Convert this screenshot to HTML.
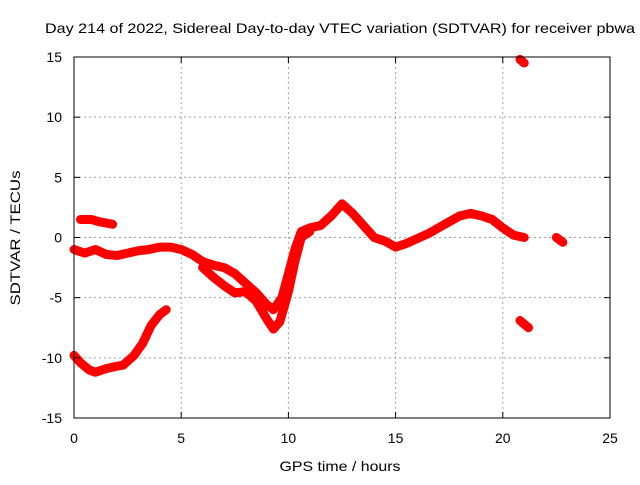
<!DOCTYPE html>
<html><head><meta charset="utf-8"><style>
body{margin:0;background:#fff;}
svg text{font-family:"Liberation Sans",sans-serif;font-size:14px;fill:#000;}
</style></head><body>
<svg id="chart" width="640" height="480">
<text x="340" y="33" text-anchor="middle" textLength="590" lengthAdjust="spacingAndGlyphs">Day 214 of 2022, Sidereal Day-to-day VTEC variation (SDTVAR) for receiver pbwa</text>
<text x="340" y="471" text-anchor="middle" textLength="121" lengthAdjust="spacingAndGlyphs">GPS time / hours</text>
<text transform="translate(20,238) rotate(-90)" text-anchor="middle" textLength="135" lengthAdjust="spacingAndGlyphs">SDTVAR / TECUs</text>
<g id="grid"></g><g id="series"></g>
<rect x="74" y="57" width="536" height="361" fill="none" stroke="#000" stroke-width="1"/>
<g id="ticks"></g>
</svg>
<script>
const xTicks=[0,5,10,15,20,25];
const yTicks=[-15,-10,-5,0,5,10,15];
const trackA=[[0,-9.8],[0.3,-10.4],[0.7,-11],[1,-11.2],[1.5,-10.9],[2,-10.7],[2.3,-10.6],[2.8,-9.8],[3.2,-8.8],[3.6,-7.3],[4,-6.4],[4.3,-6]];
const trackB=[[0.3,1.5],[0.8,1.5],[1.2,1.3],[1.8,1.1]];
const trackC=[[0,-1],[0.5,-1.3],[1,-1],[1.5,-1.4],[2,-1.5],[2.5,-1.3],[3,-1.1],[3.5,-1],[4,-0.8],[4.5,-0.8],[5,-1],[5.5,-1.4],[6,-2],[6.5,-2.3],[7,-2.5],[7.5,-3],[8,-3.8],[8.5,-4.6],[9,-5.6],[9.3,-6],[9.7,-5],[10,-3],[10.3,-1],[10.6,0.5],[11,0.8],[11.5,1],[12,1.8],[12.5,2.8],[13,2],[13.5,1],[14,0],[14.5,-0.3],[15,-0.8],[15.5,-0.5],[16,-0.1],[16.5,0.3],[17,0.8],[17.5,1.3],[18,1.8],[18.5,2],[19,1.8],[19.5,1.5],[20,0.8],[20.5,0.2],[21,0]];
const trackD=[[6,-2.5],[6.5,-3.3],[7,-4],[7.5,-4.6],[8,-4.5],[8.5,-5.3],[9,-6.8],[9.3,-7.6],[9.6,-7],[10,-4.5],[10.3,-2],[10.6,0],[11,0.5]];
const trackE=[[20.8,14.8],[21,14.5]];
const trackF=[[20.8,-6.9],[21.2,-7.5]];
const trackG=[[22.5,0],[22.8,-0.4]];
const tracks=[trackA,trackB,trackC,trackD,trackE,trackF,trackG];
const X=v=>74+v*536/25, Y=v=>418-(v+15)*361/30;
const ns="http://www.w3.org/2000/svg";
const grid=document.getElementById('grid'),ticks=document.getElementById('ticks'),ser=document.getElementById('series');
function mk(tag,attrs,parent){const e=document.createElementNS(ns,tag);for(const k in attrs)e.setAttribute(k,attrs[k]);parent.appendChild(e);return e;}
xTicks.forEach(t=>{
 if(t>0&&t<25){const g=mk('line',{x1:X(t),x2:X(t),y1:57,y2:418,stroke:'#a0a0a0','stroke-dasharray':'2,3'},grid);
 
 }
 const tl=mk('text',{x:X(t),y:443,'text-anchor':'middle'},ticks);tl.textContent=t;
 
 
 mk('line',{x1:X(t),x2:X(t),y1:418,y2:412,stroke:'#000'},ticks);
 mk('line',{x1:X(t),x2:X(t),y1:57,y2:63,stroke:'#000'},ticks);
});
yTicks.forEach(t=>{
 if(t>-15&&t<15){const g=mk('line',{x1:74,x2:610,y1:Y(t),y2:Y(t),stroke:'#a0a0a0','stroke-dasharray':'2,3'},grid);
 
 }
 const tl=mk('text',{x:62,y:Y(t)+5,'text-anchor':'end'},ticks);tl.textContent=t;
 
 
 mk('line',{x1:74,x2:80,y1:Y(t),y2:Y(t),stroke:'#000'},ticks);
 mk('line',{x1:610,x2:604,y1:Y(t),y2:Y(t),stroke:'#000'},ticks);
});
tracks.forEach((tr,i)=>{
 const p=mk('polyline',{points:tr.map(d=>X(d[0])+','+Y(d[1])).join(' '),fill:'none',stroke:'#ff0000','stroke-width':9,'stroke-linejoin':'round','stroke-linecap':'round'},ser);
 
 
});
</script>
</body></html>
